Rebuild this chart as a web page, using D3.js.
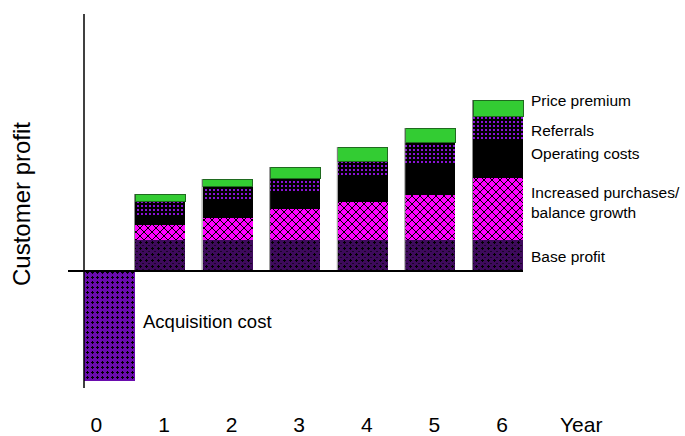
<!DOCTYPE html>
<html>
<head>
<meta charset="utf-8">
<script src="https://cdn.jsdelivr.net/npm/d3@7"></script>
<style>
  body { margin: 0; background: #fff; }
  svg { display: block; }
  text { font-family: "Liberation Sans", Arial, Helvetica, sans-serif; fill: #000; }
</style>
</head>
<body>
<svg id="chart" width="685" height="436"></svg>
<script>
// Customer profit by year of relationship (arbitrary profit units)
const years = [1, 2, 3, 4, 5, 6];
const acquisitionCost = -110;
const baseProfit         = [31, 31, 31, 31, 31, 31];
const increasedPurchases = [15, 22, 31, 38, 45, 62];
const operatingCosts     = [ 8, 18, 16, 25, 32, 39];
const referrals          = [16, 14, 15, 16, 21, 23];
const pricePremium       = [ 7,  7, 11, 14, 14, 16];
const seriesKeys   = ["base", "purchases", "operating", "referrals", "premium"];
const seriesLabels = [["Base profit"], ["Increased purchases/", "balance growth"], ["Operating costs"], ["Referrals"], ["Price premium"]];
const yearLabels = ["0", "1", "2", "3", "4", "5", "6"];
const axisTitleX = "Year";
const axisTitleY = "Customer profit";
const acquisitionLabel = "Acquisition cost";

const table = years.map((yr, i) => ({
  year: yr,
  base: baseProfit[i],
  purchases: increasedPurchases[i],
  operating: operatingCosts[i],
  referrals: referrals[i],
  premium: pricePremium[i]
}));

const svg = d3.select("#chart");
const axisX = 84;
const barW = 50;

const x = d3.scaleLinear().domain([1, 6]).range([160, 498]);
const y = d3.scaleLinear().domain([-110, 257]).range([381, 14]);

// fill patterns
const defs = svg.append("defs");
function pattern(id, size, bg, draw) {
  const p = defs.append("pattern")
    .attr("id", id)
    .attr("patternUnits", "userSpaceOnUse")
    .attr("width", size).attr("height", size);
  p.append("rect").attr("width", size).attr("height", size).attr("fill", bg);
  const g = p.append("g").attr("shape-rendering", "crispEdges");
  draw(g);
}
function px(g, cx, cy, w, h, color) {
  g.append("rect").attr("x", cx).attr("y", cy).attr("width", w).attr("height", h).attr("fill", color);
}
pattern("pat-acq", 5, "#6a0cae", g => {
  px(g, 2, 1, 1, 3, "#000");
  px(g, 1, 2, 3, 1, "#000");
});
pattern("pat-base", 6, "#3e0a5c", g => {
  px(g, 2, 1, 1, 3, "#000");
  px(g, 1, 2, 3, 1, "#000");
  px(g, 4, 5, 2, 1, "#1a0428");
});
pattern("pat-purch", 8, "#ff00ff", g => {
  for (let i = 0; i < 8; i++) {
    px(g, i, i, 1, 1, "#000");
    px(g, 7 - i, i, 1, 1, "#000");
  }
});
pattern("pat-ref", 4, "#000", g => {
  px(g, 1, 1, 2, 2, "#8a12d6");
});

const fills = {
  base: "url(#pat-base)",
  purchases: "url(#pat-purch)",
  operating: "#000",
  referrals: "url(#pat-ref)",
  premium: "#33cc33"
};

// acquisition cost bar (year 0), sitting against the axis
svg.append("rect")
  .attr("x", axisX)
  .attr("y", y(0))
  .attr("width", x(1) - barW / 2 - axisX)
  .attr("height", y(acquisitionCost) - y(0))
  .attr("fill", "url(#pat-acq)");

// stacked profit bars
const stack = d3.stack().keys(seriesKeys)(table);
const layer = svg.append("g").selectAll("g")
  .data(stack)
  .join("g")
  .attr("fill", d => fills[d.key]);

layer.selectAll("rect")
  .data(d => d.map(v => Object.assign(v, { key: d.key })))
  .join("rect")
  .attr("x", d => x(d.data.year) - barW / 2)
  .attr("y", d => y(d[1]))
  .attr("width", barW)
  .attr("height", d => y(d[0]) - y(d[1]))
  .attr("stroke", d => d.key === "premium" ? "#1f6a1f" : "none")
  .attr("stroke-width", 1)
  .attr("shape-rendering", "crispEdges");

// light edge on the left of each stacked bar
const totals = table.map(r => seriesKeys.reduce((s, k) => s + r[k], 0));
svg.append("g").selectAll("line")
  .data(table)
  .join("line")
  .attr("x1", d => x(d.year) - barW / 2 - 0.5)
  .attr("x2", d => x(d.year) - barW / 2 - 0.5)
  .attr("y1", (d, i) => y(totals[i]))
  .attr("y2", y(0))
  .attr("stroke", "#8c8c8c")
  .attr("stroke-width", 1);

// axes
svg.append("line")
  .attr("x1", axisX).attr("x2", axisX)
  .attr("y1", y(257)).attr("y2", y(-117))
  .attr("stroke", "#000").attr("stroke-width", 1.5);
svg.append("line")
  .attr("x1", 68).attr("x2", x(6) + barW / 2)
  .attr("y1", y(0)).attr("y2", y(0))
  .attr("stroke", "#000").attr("stroke-width", 2);

// year labels
svg.append("g").selectAll("text")
  .data(yearLabels)
  .join("text")
  .attr("x", (d, i) => x(i) + 4)
  .attr("y", 432)
  .attr("text-anchor", "middle")
  .attr("font-size", 21)
  .text(d => d);
svg.append("text")
  .attr("x", 560)
  .attr("y", 432)
  .attr("font-size", 21)
  .text(axisTitleX);

// y axis title
svg.append("text")
  .attr("transform", `translate(30,${y(67)}) rotate(-90)`)
  .attr("text-anchor", "middle")
  .attr("font-size", 24)
  .text(axisTitleY);

// acquisition cost label
svg.append("text")
  .attr("x", 143)
  .attr("y", 328)
  .attr("font-size", 18.5)
  .text(acquisitionLabel);

// series labels beside the last bar
const last = stack.map(s => s[s.length - 1]);
const nudge = { base: 1, purchases: -6, operating: -5, referrals: 3, premium: -7 };
const labelG = svg.append("g");
last.forEach((seg, i) => {
  const key = seriesKeys[i];
  const lines = seriesLabels[i];
  const mid = (y(seg[0]) + y(seg[1])) / 2 + nudge[key];
  const t = labelG.append("text")
    .attr("x", 531)
    .attr("y", mid + 5 - (lines.length - 1) * 10)
    .attr("font-size", 15.5);
  lines.forEach((ln, j) => {
    t.append("tspan").attr("x", 531).attr("dy", j === 0 ? 0 : 20).text(ln);
  });
});
</script>
</body>
</html>
